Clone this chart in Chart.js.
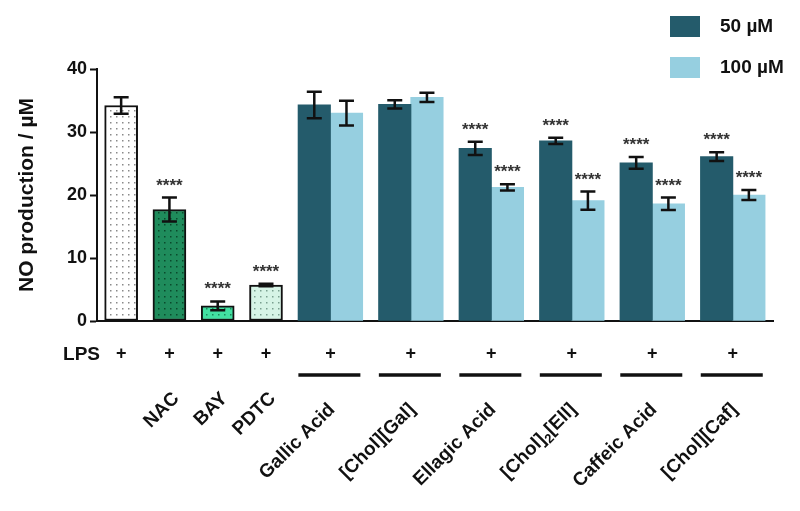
<!DOCTYPE html>
<html>
<head>
<meta charset="utf-8">
<script src="https://cdn.jsdelivr.net/npm/chart.js@4.4.1/dist/chart.umd.min.js"></script>
<style>
  html, body { margin: 0; padding: 0; background: #fff; }
  canvas { display: block; }
</style>
</head>
<body>
<canvas id="noChart" width="800" height="511"></canvas>
<script>
// controls (LPS only, then LPS + reference inhibitors)
var singleLabels = ['', 'NAC', 'BAY', 'PDTC'];
var singleValues = [34.2, 17.7, 2.4, 5.7];
var singleErrors = [1.3, 1.9, 0.7, 0.2];
var singleStars = ['', '****', '****', '****'];

// compounds tested at two concentrations
var groupLabels = ['Gallic Acid', '[Chol][Gal]', 'Ellagic Acid', '[Chol]\u2082[Ell]', 'Caffeic Acid', '[Chol][Caf]'];
var values50 = [34.3, 34.4, 27.4, 28.6, 25.1, 26.1];
var errors50 = [2.1, 0.65, 1.05, 0.5, 0.95, 0.7];
var stars50 = ['', '', '****', '****', '****', '****'];
var values100 = [33.0, 35.5, 21.2, 19.1, 18.6, 20.0];
var errors100 = [1.95, 0.75, 0.5, 1.45, 1.0, 0.8];
var stars100 = ['', '', '****', '****', '****', '****'];

var seriesNames = ['50 \u00b5M', '100 \u00b5M'];
var yTicks = [0, 10, 20, 30, 40];

var FONT = 'Arial, "Liberation Sans", sans-serif';

function dotted(bg, dot) {
    var c = document.createElement('canvas');
    c.width = 6; c.height = 6;
    var g = c.getContext('2d');
    g.fillStyle = bg;
    g.fillRect(0, 0, 6, 6);
    g.fillStyle = dot;
    g.fillRect(2, 2, 1.5, 1.5);
    return g.createPattern(c, 'repeat');
}

// slot layout on the linear x axis
function singleX(i) { return 1.5 + 3 * i; }
function groupX(j) { return 14.5 + 5 * j; }

var singleFills = [
    dotted('#ffffff', '#8a8a8a'),
    dotted('#1f8c5c', '#0b4a2c'),
    dotted('#42e0a2', '#1a8a5a'),
    dotted('#d6f4e6', '#7aa090')
];

var errorSets = [singleErrors, errors50, errors100];
var starSets = [singleStars, stars50, stars100];

var extras = {
    id: 'extras',
    beforeDraw: function(chart) {
        var ctx = chart.ctx;
        ctx.save();
        ctx.fillStyle = '#fff';
        ctx.fillRect(0, 0, chart.width, chart.height);
        ctx.restore();
    },
    afterDatasetsDraw: function(chart) {
        var ctx = chart.ctx, y = chart.scales.y;
        chart.data.datasets.forEach(function(ds, d) {
            var meta = chart.getDatasetMeta(d);
            meta.data.forEach(function(bar, i) {
                var v = ds.data[i].y, e = errorSets[d][i];
                var top = y.getPixelForValue(v + e), bot = y.getPixelForValue(v - e);
                ctx.save();
                ctx.strokeStyle = '#111';
                ctx.lineWidth = 2.5;
                ctx.beginPath();
                ctx.moveTo(bar.x, top); ctx.lineTo(bar.x, bot);
                ctx.moveTo(bar.x - 7.5, top); ctx.lineTo(bar.x + 7.5, top);
                ctx.moveTo(bar.x - 7.5, bot); ctx.lineTo(bar.x + 7.5, bot);
                ctx.stroke();
                if (starSets[d][i]) {
                    ctx.fillStyle = '#333';
                    ctx.font = 'bold 17px ' + FONT;
                    ctx.textAlign = 'center';
                    ctx.textBaseline = 'alphabetic';
                    ctx.fillText(starSets[d][i], bar.x, top - 7);
                }
                ctx.restore();
            });
        });
    },
    afterDraw: function(chart) {
        var ctx = chart.ctx, x = chart.scales.x;
        ctx.save();
        ctx.fillStyle = '#111';
        ctx.strokeStyle = '#111';

        // LPS row
        ctx.font = 'bold 19px ' + FONT;
        ctx.textBaseline = 'middle';
        ctx.textAlign = 'right';
        ctx.fillText('LPS', 100, 355);
        ctx.textAlign = 'center';
        ctx.font = 'bold 18px ' + FONT;
        singleLabels.forEach(function(l, i) { ctx.fillText('+', x.getPixelForValue(singleX(i)), 354); });
        groupLabels.forEach(function(l, j) { ctx.fillText('+', x.getPixelForValue(groupX(j)), 354); });

        // underlines for the paired bars
        ctx.lineWidth = 3.5;
        groupLabels.forEach(function(l, j) {
            var cx = x.getPixelForValue(groupX(j));
            ctx.beginPath();
            ctx.moveTo(cx - 32, 375);
            ctx.lineTo(cx + 30, 375);
            ctx.stroke();
        });

        // rotated names
        function rotated(text, ax, ay) {
            ctx.save();
            ctx.translate(ax, ay);
            ctx.rotate(-Math.PI / 4);
            ctx.textBaseline = 'top';
            ctx.textAlign = 'left';
            var big = 'bold 19px ' + FONT, small = 'bold 13px ' + FONT;
            var parts = text.split('\u2082');
            var w = 0;
            parts.forEach(function(p, k) {
                ctx.font = big; w += ctx.measureText(p).width;
                if (k < parts.length - 1) { ctx.font = small; w += ctx.measureText('2').width; }
            });
            var px = -w;
            parts.forEach(function(p, k) {
                ctx.font = big;
                ctx.fillText(p, px, 0);
                px += ctx.measureText(p).width;
                if (k < parts.length - 1) {
                    ctx.font = small;
                    ctx.fillText('2', px, 9);
                    px += ctx.measureText('2').width;
                }
            });
            ctx.restore();
        }
        singleLabels.forEach(function(l, i) {
            if (l) rotated(l, x.getPixelForValue(singleX(i)), 389);
        });
        groupLabels.forEach(function(l, j) {
            rotated(l, x.getPixelForValue(groupX(j)) - 5, 400);
        });

        // legend
        ctx.font = 'bold 19px ' + FONT;
        ctx.textAlign = 'left';
        ctx.textBaseline = 'middle';
        [1, 2].forEach(function(d, k) {
            var yy = 16 + k * 41;
            ctx.fillStyle = chart.data.datasets[d].backgroundColor;
            ctx.fillRect(670, yy, 30, 21);
            ctx.fillStyle = '#111';
            ctx.fillText(chart.data.datasets[d].label, 720, yy + 11);
        });
        ctx.restore();
    }
};

new Chart(document.getElementById('noChart'), {
    type: 'bar',
    data: {
        datasets: [{
            label: 'LPS',
            data: singleValues.map(function(v, i) { return { x: singleX(i), y: v }; }),
            backgroundColor: singleFills,
            borderColor: '#111',
            borderWidth: 2,
            borderSkipped: false,
            barThickness: 33,
            grouped: false
        }, {
            label: seriesNames[0],
            data: values50.map(function(v, j) { return { x: groupX(j) - 1, y: v }; }),
            backgroundColor: '#245b6b',
            borderWidth: 0,
            barThickness: 32.5,
            grouped: false
        }, {
            label: seriesNames[1],
            data: values100.map(function(v, j) { return { x: groupX(j) + 1, y: v }; }),
            backgroundColor: '#96cfe0',
            borderWidth: 0,
            barThickness: 32.5,
            grouped: false
        }]
    },
    options: {
        responsive: false,
        animation: false,
        layout: { padding: { left: 0, right: 27, top: 69, bottom: 0 } },
        plugins: {
            legend: { display: false },
            tooltip: { enabled: false }
        },
        scales: {
            x: {
                type: 'linear',
                min: 0,
                max: 42,
                offset: false,
                ticks: { display: false },
                grid: { display: false },
                border: { display: true, color: '#111', width: 2 },
                afterFit: function(s) { s.height = 190; }
            },
            y: {
                min: 0,
                max: 40,
                afterBuildTicks: function(s) { s.ticks = yTicks.map(function(v) { return { value: v }; }); },
                ticks: {
                    color: '#111',
                    padding: 3,
                    font: { family: FONT, size: 18, weight: 'bold' }
                },
                grid: { drawOnChartArea: false, drawTicks: true, tickLength: 7, tickWidth: 2, color: '#111' },
                border: { display: true, color: '#111', width: 2 },
                title: {
                    display: true,
                    text: 'NO production / \u00b5M',
                    color: '#111',
                    font: { family: FONT, size: 21, weight: 'bold' },
                    padding: { top: 15, bottom: 0 }
                },
                afterFit: function(s) { s.width = 97; }
            }
        }
    },
    plugins: [extras]
});
</script>
</body>
</html>
